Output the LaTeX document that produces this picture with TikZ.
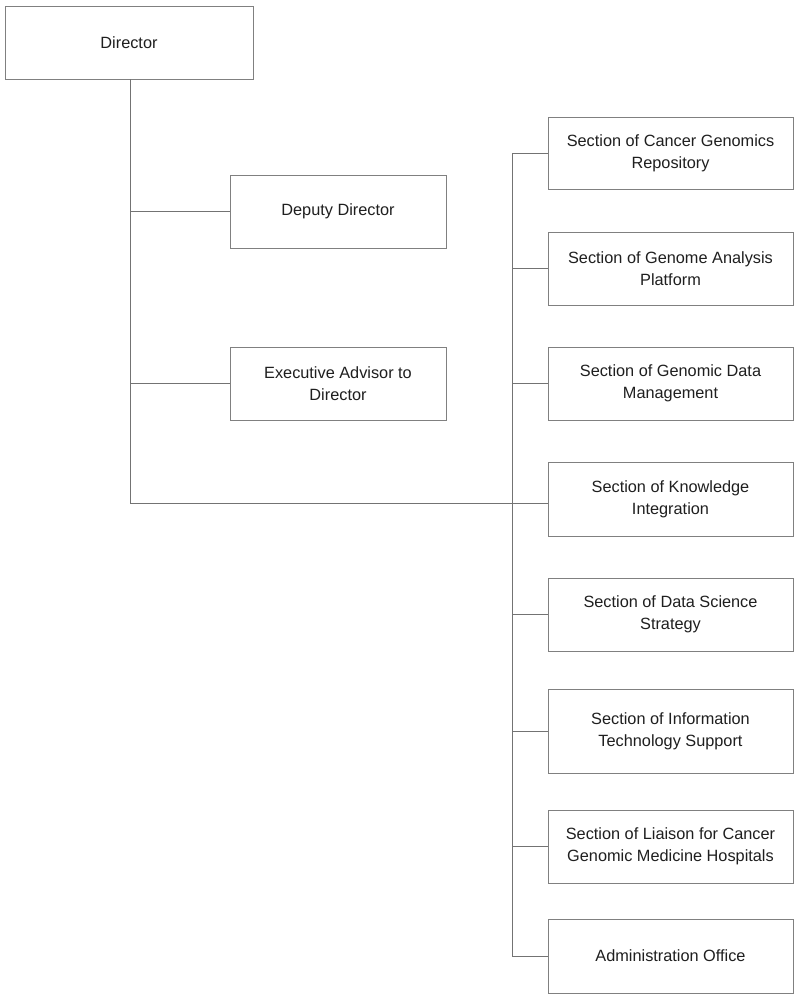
\documentclass[tikz,border=0pt]{standalone}
\usepackage{fontspec}
\setmainfont{Liberation Sans}
\begin{document}
\begin{tikzpicture}[x=1pt,y=-1pt,
  box/.style={draw=black!50,line width=0.9pt,fill=white,inner sep=0pt,align=center,
    font=\fontsize{16.3}{22}\selectfont,text=black!88},
  conn/.style={draw=black!55,line width=0.9pt}]
\useasboundingbox[fill=white] (0,0) rectangle (800,999);
\node[box,minimum width=248,minimum height=73] (dir) at (129,42.5) {Director};
\node[box,minimum width=216,minimum height=73] (dep) at (338,211.5) {Deputy Director};
\node[box,minimum width=216,minimum height=73] (exe) at (338,383.5) {Executive Advisor to\\Director};
\node[box,minimum width=245,minimum height=72] (s1) at (670.5,153) {Section of Cancer Genomics\\Repository};
\node[box,minimum width=245,minimum height=73] (s2) at (670.5,268.5) {Section of Genome Analysis\\Platform};
\node[box,minimum width=245,minimum height=73] (s3) at (670.5,383.5) {Section of Genomic Data\\Management};
\node[box,minimum width=245,minimum height=74] (s4) at (670.5,499) {Section of Knowledge\\Integration};
\node[box,minimum width=245,minimum height=73] (s5) at (670.5,614.5) {Section of Data Science\\Strategy};
\node[box,minimum width=245,minimum height=84] (s6) at (670.5,731) {Section of Information\\Technology Support};
\node[box,minimum width=245,minimum height=73] (s7) at (670.5,846.5) {Section of Liaison for Cancer\\Genomic Medicine Hospitals};
\node[box,minimum width=245,minimum height=74] (s8) at (670.5,956) {Administration Office};
\coordinate (dbot) at (130,503);
\coordinate (bt) at (512,153);
\coordinate (bb) at (512,956);
\draw[conn] (dir.south -| dbot) -- (dbot) -- (s4.west |- dbot);
\draw[conn] (dep.west) -- (dep.west -| dbot);
\draw[conn] (exe.west) -- (exe.west -| dbot);
\draw[conn] (s1.west) -- (bt) -- (bb) -- (s8.west);
\foreach \s in {s2,s3,s5,s6,s7} \draw[conn] (\s.west) -- (\s.west -| bt);
\end{tikzpicture}
\end{document}
